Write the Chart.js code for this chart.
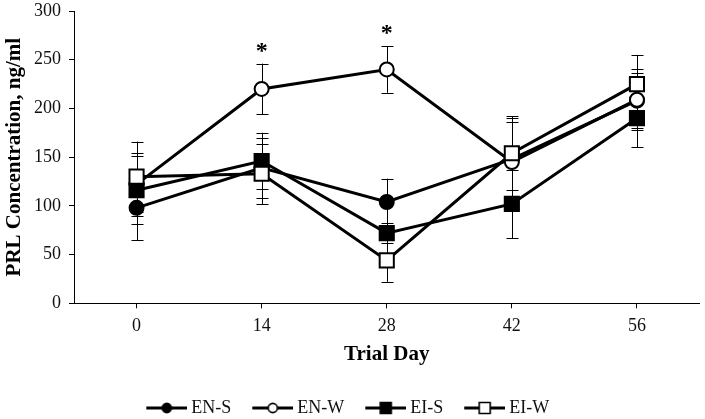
<!DOCTYPE html>
<html><head><meta charset="utf-8">
<script src="https://cdn.jsdelivr.net/npm/chart.js@4/dist/chart.umd.min.js"></script>
<style>html,body{margin:0;padding:0;background:#fff}#c{display:block}</style>
</head><body>
<canvas id="c" width="705" height="419"></canvas>
<script>
// ---- data ----
const days = ['0', '14', '28', '42', '56'];
const seriesNames = ['EN-S', 'EN-W', 'EI-S', 'EI-W'];
const enS    = [98, 139, 104, 148, 208];
const enSErr = [33, 31, 24, 42, 28];
const enW    = [122, 220, 240, 145, 209];
const enWErr = [32, 26, 24, 41, 31];
const eiS    = [116, 146, 72, 102, 190];
const eiSErr = [35, 29, 10, 35, 30];
const eiW    = [130, 133, 44, 154, 225];
const eiWErr = [36, 31, 22, 38, 30];
const enWSig = ['', '*', '*', '', ''];
const yMin = 0, yMax = 300, yStep = 50;

const FONT = "'Liberation Serif', 'Times New Roman', serif";

function legendImg(shape, filled) {
  const c = document.createElement('canvas');
  c.width = 62; c.height = 16;
  const g = c.getContext('2d');
  g.strokeStyle = '#000'; g.lineWidth = 3;
  g.beginPath(); g.moveTo(21, 8); g.lineTo(62, 8); g.stroke();
  g.fillStyle = filled ? '#000' : '#fff'; g.lineWidth = 1.6;
  const cx = 41.5, cy = 8;
  g.beginPath();
  if (shape === 'circle') g.arc(cx, cy, 4.6, 0, Math.PI * 2);
  else g.rect(cx - 5.5, cy - 5.5, 11, 11);
  g.fill(); g.stroke();
  return c;
}

function mk(label, data, errors, shape, filled, order, sig) {
  return {
    label, data, errors, sig, order,
    borderColor: '#000', borderWidth: 3, tension: 0, fill: false,
    pointStyle: shape,
    pointRadius: shape === 'circle' ? 7 : 10,
    pointHoverRadius: shape === 'circle' ? 7 : 10,
    pointBackgroundColor: filled ? '#000' : '#fff',
    pointBorderColor: '#000', pointBorderWidth: 2,
    legendImage: legendImg(shape, filled)
  };
}

const errorBars = {
  id: 'errorBars',
  beforeDatasetsDraw(chart) {
    const ctx = chart.ctx, ys = chart.scales.y;
    ctx.save();
    ctx.strokeStyle = '#000'; ctx.lineWidth = 1;
    chart.data.datasets.forEach((ds, i) => {
      const meta = chart.getDatasetMeta(i);
      meta.data.forEach((pt, j) => {
        const v = ds.data[j], e = ds.errors[j];
        const t = ys.getPixelForValue(v + e), b = ys.getPixelForValue(v - e);
        const x = Math.round(pt.x) + 0.5;
        ctx.beginPath();
        ctx.moveTo(x, t); ctx.lineTo(x, b);
        ctx.moveTo(x - 6, Math.round(t) + 0.5); ctx.lineTo(x + 6, Math.round(t) + 0.5);
        ctx.moveTo(x - 6, Math.round(b) + 0.5); ctx.lineTo(x + 6, Math.round(b) + 0.5);
        ctx.stroke();
      });
    });
    ctx.restore();
  },
  afterDatasetsDraw(chart) {
    const ctx = chart.ctx, ys = chart.scales.y;
    ctx.save();
    ctx.fillStyle = '#000';
    ctx.font = 'bold 24px ' + FONT;
    ctx.textAlign = 'center'; ctx.textBaseline = 'alphabetic';
    chart.data.datasets.forEach((ds, i) => {
      if (!ds.sig) return;
      const meta = chart.getDatasetMeta(i);
      meta.data.forEach((pt, j) => {
        if (!ds.sig[j]) return;
        const t = ys.getPixelForValue(ds.data[j] + ds.errors[j]);
        ctx.fillText(ds.sig[j], pt.x, t - 6);
      });
    });
    ctx.restore();
  },
  afterLayout(chart) {
    const lg = chart.legend;
    if (lg) { lg.left -= 10; lg.right -= 10; }
  }
};

new Chart(document.getElementById('c'), {
  type: 'line',
  data: {
    labels: days,
    datasets: [
      mk(seriesNames[0], enS, enSErr, 'circle', true, 4),
      mk(seriesNames[1], enW, enWErr, 'circle', false, 3, enWSig),
      mk(seriesNames[2], eiS, eiSErr, 'rect', true, 2),
      mk(seriesNames[3], eiW, eiWErr, 'rect', false, 1)
    ]
  },
  options: {
    responsive: false, animation: false, devicePixelRatio: 1,
    layout: { autoPadding: false, padding: { top: 11, right: 5.5, bottom: 0, left: 0 } },
    plugins: {
      tooltip: { enabled: false },
      legend: {
        position: 'bottom', maxHeight: 25,
        labels: {
          usePointStyle: true, pointStyleWidth: 52, padding: 5,
          color: '#111', font: { family: FONT, size: 18 },
          generateLabels(chart) {
            return chart.data.datasets.map((ds, i) => ({
              text: ds.label, datasetIndex: i, pointStyle: ds.legendImage,
              fillStyle: '#000', strokeStyle: '#000', lineWidth: 0,
              hidden: false, fontColor: '#111'
            }));
          }
        }
      }
    },
    scales: {
      x: {
        type: 'category', offset: true,
        grid: { display: true, drawOnChartArea: false, tickLength: 5, color: '#000' },
        border: { display: true, color: '#000', width: 1 },
        ticks: { color: '#111', font: { family: FONT, size: 18 }, padding: 7, maxRotation: 0 },
        title: { display: true, text: 'Trial Day', color: '#000',
                 font: { family: FONT, size: 21, weight: 'bold' }, padding: { top: 0, bottom: 27 } },
        afterFit(s) { s.height = 90.7; s.paddingLeft = 0; s.paddingRight = 0; }
      },
      y: {
        min: yMin, max: yMax,
        grid: { display: true, drawOnChartArea: false, tickLength: 5, color: '#000' },
        border: { display: true, color: '#000', width: 1 },
        ticks: { stepSize: yStep, color: '#111', font: { family: FONT, size: 18 }, padding: 8 },
        title: { display: true, text: 'PRL Concentration, ng/ml', color: '#000',
                 font: { family: FONT, size: 21, weight: 'bold' }, padding: { top: 2.4, bottom: 0 } },
        afterFit(s) { s.width = 74; s.paddingTop = 10; s.paddingBottom = 10; }
      }
    }
  },
  plugins: [errorBars]
});
</script>
</body></html>
